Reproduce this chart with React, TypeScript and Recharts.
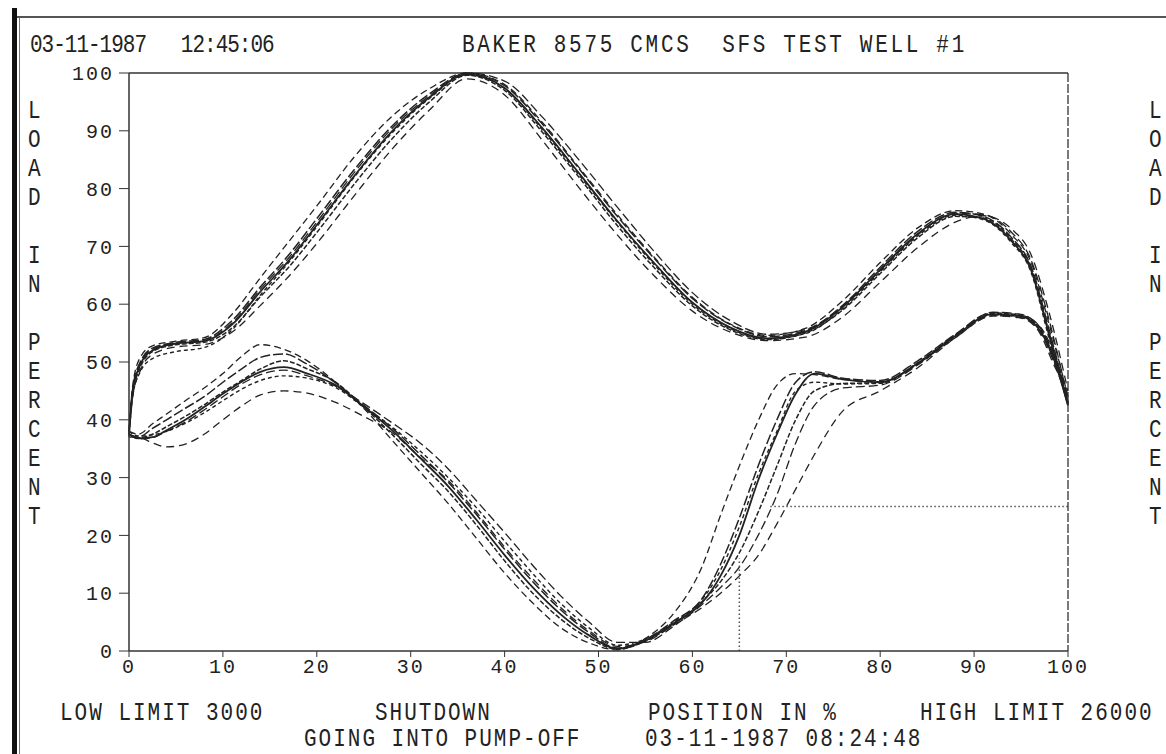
import React from "react";
import { LineChart, Line, XAxis, YAxis, ReferenceLine } from "recharts";

// stroke position (%) where each upstroke / downstroke load is sampled
const UP_POS = [0, 0.4, 1.2, 2.5, 5, 8, 11, 14, 17, 20, 24, 28, 32, 36, 40, 44, 48, 52, 56, 60, 64, 68, 72, 76, 80, 84, 88, 91, 94, 96, 98, 100];
const DOWN_POS = [0, 1, 2.5, 4, 6, 8, 10, 12, 14, 16.5, 19, 22, 25, 28, 31, 34, 37, 40, 43, 46, 49, 52, 55, 58, 61, 63, 65, 67, 69, 71, 73, 76, 80, 84, 88, 92, 95, 97, 98.5, 100];

// load in percent, one array per stroke card
const CARD1_UP = [37.5, 45, 49.5, 52, 53.2, 53.6, 56.5, 62.2, 67.5, 73.7, 82.2, 89.9, 95.8, 99.8, 97.4, 90.5, 82.5, 74.4, 67, 60.3, 56, 54.1, 55.2, 59.5, 66, 72.2, 75.6, 74.8, 70.9, 66.2, 54.6, 42.5];
const CARD2_UP = [37.5, 45.5, 50, 52.4, 53.4, 53.9, 57.2, 63, 68.5, 74.8, 83.3, 90.8, 96.4, 99.9, 97.8, 91.2, 83.3, 75.2, 67.8, 61, 56.5, 54.4, 55.4, 59.8, 66.4, 72.6, 75.9, 75.2, 71.5, 66.8, 55.5, 43];
const CARD3_UP = [38, 46, 50.8, 52.8, 53.6, 54.2, 58.3, 64.6, 70.8, 77, 85.5, 92.5, 97.3, 100, 98, 91.5, 83.5, 75.5, 68, 61.2, 56.6, 54.6, 55.8, 60.6, 67.2, 73.2, 76.2, 75.6, 72, 67.5, 56.5, 44];
const CARD4_UP = [37, 44, 48.5, 51.3, 52.6, 53, 55.2, 59.8, 64.8, 70.5, 78.8, 86.8, 93.6, 99, 96.2, 88.4, 80, 72, 64.8, 58.8, 55.2, 53.7, 54.3, 57.8, 63.8, 69.8, 74.2, 75.3, 73, 68.8, 58.5, 45];
const CARD5_UP = [37.5, 44.6, 49, 51.8, 53, 53.4, 55.9, 61.3, 66.4, 72.4, 80.8, 88.6, 95, 99.6, 97, 89.8, 81.8, 73.6, 66.2, 59.7, 55.6, 53.9, 55, 59, 65.3, 71.5, 75.2, 74.9, 71.2, 66.5, 55, 43];
const CARD6_UP = [37.5, 45.2, 49.8, 52.2, 53.3, 53.7, 56.8, 62.6, 68, 74.2, 82.8, 90.4, 96.1, 100, 98.6, 92.4, 84.8, 76.8, 69, 62, 57.2, 54.8, 55.6, 59.6, 65.8, 72, 75.7, 75.5, 72.4, 67.9, 57.2, 43.5];
const CARD7_UP = [38, 44.2, 48.3, 50.6, 51.8, 52.5, 55.6, 61.6, 67.2, 73.4, 82, 89.6, 95.6, 99.7, 97.3, 90.2, 82.2, 74.2, 66.7, 60, 55.8, 54, 54.9, 59.2, 65.6, 71.8, 75.4, 74.6, 70.6, 65.8, 54, 42.8];

const CARD1_DOWN = [37.5, 36.8, 37, 38.2, 40, 42.2, 44.5, 46.6, 48.3, 49.1, 48, 46, 42.3, 38.2, 33.4, 28.5, 22.7, 16.6, 11, 6.3, 2.7, 0.4, 1.8, 4.8, 8.3, 13, 20, 29.5, 37.5, 44.5, 48, 47, 46.5, 49.8, 54.5, 58.3, 57.9, 55.5, 50.5, 42.5];
const CARD2_DOWN = [37.5, 37, 38.5, 40, 42, 44, 46.5, 48.8, 50.8, 51.4, 49.6, 46.4, 42.5, 38.6, 34, 29.2, 23.6, 17.6, 12, 7.1, 3.2, 0.5, 2, 5.2, 9, 15, 23, 32, 40, 46.5, 48.3, 47.2, 46.8, 50.2, 54.8, 58.6, 58.2, 56, 51, 43];
const CARD3_DOWN = [38, 37.5, 39.3, 41, 43.3, 45.5, 48, 51, 53, 52.2, 50.2, 46.5, 42, 36.5, 31, 25.5, 19.5, 13.5, 8.3, 4, 1.4, 0.2, 2.2, 6.5, 14.5, 23.5, 32, 39.8, 46, 48, 47.8, 47, 46.6, 49.6, 54.2, 58, 58, 56.2, 51.5, 44];
const CARD4_DOWN = [37, 37, 36, 35.3, 35.8, 37.5, 40, 42.4, 44.3, 45, 44.6, 43, 40.6, 37.8, 33.5, 29.5, 24, 18, 12.5, 7.5, 3.5, 0.8, 1.6, 4.5, 7.5, 10, 13, 16.5, 22, 28, 34, 41.5, 45, 49, 54.2, 58, 57.6, 55, 49.5, 45];
const CARD5_DOWN = [37.5, 36.9, 37.5, 38.8, 40.6, 42.6, 44.8, 46.8, 48.8, 50.2, 48.8, 46.5, 42.2, 37.5, 32.5, 27.6, 21.8, 15.6, 10, 5.5, 2.2, 0.3, 1.7, 4.6, 8.5, 12, 17, 24, 32, 40, 45, 46.3, 46.4, 49.7, 54.4, 58.4, 58, 55.8, 50.8, 43];
const CARD6_DOWN = [37.5, 36.7, 36.9, 38, 39.6, 41.7, 44, 46.2, 47.8, 48.6, 47.6, 45.8, 42.8, 39.5, 36, 31.5, 26, 20.5, 14.8, 9.5, 5, 1.5, 1.5, 4.3, 8, 11, 14.5, 20, 27, 36, 42.5, 45.5, 46, 49.5, 54.6, 58.2, 57.7, 55.3, 50, 43.5];
const CARD7_DOWN = [38, 37.2, 37.4, 38, 39.4, 41.2, 43.3, 45.3, 46.8, 47.6, 47.2, 45.6, 42.2, 38.8, 34.6, 30, 24.8, 19, 13.4, 8.2, 4, 1, 2.1, 5, 8.8, 14, 21.5, 30.5, 38, 45, 46.5, 46.2, 46.3, 49.9, 54.7, 58.5, 58.1, 55.7, 50.2, 42.8];

// pump-off markers
const PUMPOFF_POS = [65, 65];
const PUMPOFF_LOAD = [0, 16];
const SETPOINT_POS = [68.3, 100];
const SETPOINT_LOAD = [25, 25];

const X_TICKS = [0, 10, 20, 30, 40, 50, 60, 70, 80, 90, 100];
const Y_TICKS = [0, 10, 20, 30, 40, 50, 60, 70, 80, 90, 100];
const SIDE_LABEL = "LOAD IN PERCENT";

const ink = "#222";
const mono = '"Liberation Mono", "DejaVu Sans Mono", monospace';

const toPoints = (pos: number[], load: number[]) =>
  pos.map((p, i) => ({ pos: p, load: load[i] }));

const cards = [
  { up: CARD1_UP, down: CARD1_DOWN, dash: undefined, w: 1.8 },
  { up: CARD2_UP, down: CARD2_DOWN, dash: "10 3", w: 1.5 },
  { up: CARD3_UP, down: CARD3_DOWN, dash: "7 4", w: 1.3 },
  { up: CARD4_UP, down: CARD4_DOWN, dash: "8 5", w: 1.3 },
  { up: CARD5_UP, down: CARD5_DOWN, dash: "5 2", w: 1.5 },
  { up: CARD6_UP, down: CARD6_DOWN, dash: "9 4", w: 1.3 },
  { up: CARD7_UP, down: CARD7_DOWN, dash: "4 3", w: 1.4 },
];

const textStyle: React.CSSProperties = {
  position: "absolute",
  fontFamily: mono,
  fontSize: 21,
  letterSpacing: 2,
  lineHeight: 1,
  color: ink,
  whiteSpace: "pre",
  transform: "scaleY(1.2)",
  transformOrigin: "left 9px",
};

const Txt = ({ x, y, sp, children }: { x: number; y: number; sp?: number; children: string }) => (
  <div style={{ ...textStyle, left: x, top: y, letterSpacing: sp ?? 2 }}>{children}</div>
);

const SideLabel = ({ cx }: { cx: number }) => (
  <>
    {SIDE_LABEL.split("").map((ch, i) =>
      ch === " " ? null : (
        <div
          key={i}
          style={{ ...textStyle, left: cx - 7, top: 110 + 29 * i - 9, letterSpacing: 0 }}
        >
          {ch}
        </div>
      )
    )}
  </>
);

const tickStyle = { fill: ink, fontFamily: mono, fontSize: 20, letterSpacing: 2 };

export default function App() {
  return (
    <div style={{ position: "absolute", left: 0, top: 0, width: 1166, height: 754, background: "#fff", overflow: "hidden" }}>
      {/* page frame */}
      <div style={{ position: "absolute", left: 12, top: 8, width: 5, height: 746, background: "#111" }} />
      <div style={{ position: "absolute", left: 19, top: 16, width: 1, height: 738, background: "#777" }} />
      <div style={{ position: "absolute", left: 17, top: 16, width: 1149, height: 1.5, background: "#555" }} />

      <LineChart
        width={1166}
        height={754}
        margin={{ top: 73, right: 38, left: 69, bottom: 73 }}
        style={{ position: "absolute", left: 0, top: 0 }}
      >
        <XAxis
          dataKey="pos"
          type="number"
          domain={[0, 100]}
          ticks={X_TICKS}
          interval={0}
          height={30}
          tickSize={6}
          tickMargin={2}
          axisLine={{ stroke: "#333", strokeWidth: 1.5 }}
          tickLine={{ stroke: "#333" }}
          tick={tickStyle}
          allowDuplicatedCategory={false}
        />
        <YAxis
          yAxisId="left"
          type="number"
          domain={[0, 100]}
          ticks={Y_TICKS}
          interval={0}
          width={60}
          tickSize={10}
          tickMargin={5}
          axisLine={{ stroke: "#333", strokeWidth: 1.5 }}
          tickLine={{ stroke: "#333" }}
          tick={tickStyle}
        />
        <YAxis
          yAxisId="right"
          orientation="right"
          type="number"
          domain={[0, 100]}
          ticks={Y_TICKS}
          interval={0}
          width={60}
          tickSize={10}
          tickMargin={12}
          axisLine={{ stroke: "#333", strokeWidth: 1.3, strokeDasharray: "9 2" }}
          tickLine={{ stroke: "#333" }}
          tick={tickStyle}
        />
        <ReferenceLine yAxisId="left" y={100} stroke="#333" strokeWidth={1.5} />

        {cards.map((c, i) => (
          <Line
            key={"up" + i}
            yAxisId="left"
            data={toPoints(UP_POS, c.up)}
            dataKey="load"
            type="monotone"
            stroke={ink}
            strokeWidth={c.w}
            strokeDasharray={c.dash}
            dot={false}
            isAnimationActive={false}
          />
        ))}
        {cards.map((c, i) => (
          <Line
            key={"down" + i}
            yAxisId="left"
            data={toPoints(DOWN_POS, c.down)}
            dataKey="load"
            type="monotone"
            stroke={ink}
            strokeWidth={c.w}
            strokeDasharray={c.dash}
            dot={false}
            isAnimationActive={false}
          />
        ))}

        <Line
          yAxisId="left"
          data={toPoints(PUMPOFF_POS, PUMPOFF_LOAD)}
          dataKey="load"
          type="linear"
          stroke="#555"
          strokeWidth={1.5}
          strokeDasharray="1.5 2.5"
          dot={false}
          isAnimationActive={false}
        />
        <Line
          yAxisId="left"
          data={toPoints(SETPOINT_POS, SETPOINT_LOAD)}
          dataKey="load"
          type="linear"
          stroke="#555"
          strokeWidth={1.5}
          strokeDasharray="1.5 2.5"
          dot={false}
          isAnimationActive={false}
        />
      </LineChart>

      <Txt x={30} y={35} sp={-1}>03-11-1987   12:45:06</Txt>
      <Txt x={462} y={35} sp={2.7}>BAKER 8575 CMCS  SFS TEST WELL #1</Txt>
      <SideLabel cx={35} />
      <SideLabel cx={1156} />
      <Txt x={60} y={703}>LOW LIMIT 3000</Txt>
      <Txt x={375} y={703}>SHUTDOWN</Txt>
      <Txt x={648} y={703}>POSITION IN %</Txt>
      <Txt x={920} y={703}>HIGH LIMIT 26000</Txt>
      <Txt x={304} y={729}>GOING INTO PUMP-OFF</Txt>
      <Txt x={645} y={729}>03-11-1987 08:24:48</Txt>
    </div>
  );
}
